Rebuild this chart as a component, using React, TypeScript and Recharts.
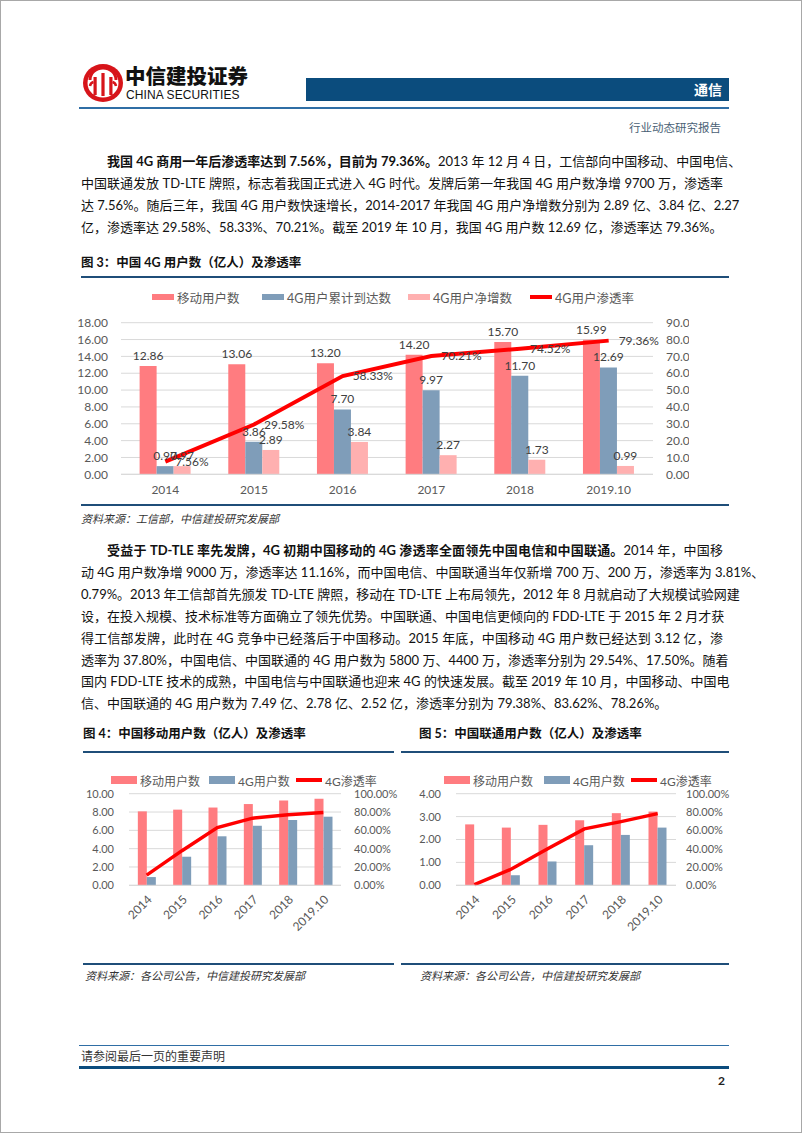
import React from 'react';
import { ComposedChart, Bar, Line, XAxis, YAxis, CartesianGrid, LabelList } from 'recharts';

// 图3 中国4G用户数（亿人）及渗透率
const years = ['2014', '2015', '2016', '2017', '2018', '2019.10'];
const mobileUsers = [12.86, 13.06, 13.2, 14.2, 15.7, 15.99];
const users4g = [0.97, 3.86, 7.7, 9.97, 11.7, 12.69];
const netAdds4g = [0.97, 2.89, 3.84, 2.27, 1.73, 0.99];
const penetration = [7.56, 29.58, 58.33, 70.21, 74.52, 79.36];
const leftTicksMain = [0, 2, 4, 6, 8, 10, 12, 14, 16, 18];
const rightTicksMain = [0, 10, 20, 30, 40, 50, 60, 70, 80, 90];

// 图4 中国移动
const cmMobile = [8.07, 8.26, 8.49, 8.87, 9.25, 9.44];
const cm4g = [0.9, 3.12, 5.35, 6.5, 7.13, 7.49];
const cmPen = [11.16, 37.8, 63.0, 73.3, 77.1, 79.38];
const cmLeftTicks = [0, 2, 4, 6, 8, 10];

// 图5 中国联通
const cuMobile = [2.66, 2.52, 2.64, 2.84, 3.15, 3.22];
const cu4g = [0.02, 0.44, 1.04, 1.75, 2.2, 2.52];
const cuPen = [0.79, 17.5, 39.8, 61.6, 69.5, 78.26];
const cuLeftTicks = [0, 1, 2, 3, 4];

const smallRightTicks = [0, 20, 40, 60, 80, 100];

const mainData = years.map((y, i) => ({
  year: y,
  mobile: mobileUsers[i],
  total4g: users4g[i],
  net4g: netAdds4g[i],
  pen: penetration[i],
}));
const cmData = years.map((y, i) => ({ year: y, mobile: cmMobile[i], u4g: cm4g[i], pen: cmPen[i] }));
const cuData = years.map((y, i) => ({ year: y, mobile: cuMobile[i], u4g: cu4g[i], pen: cuPen[i] }));

const RED = '#FF7C80';
const BLUE = '#7F9DB9';
const PINK = '#FFB0B0';
const LINE_RED = '#FF0000';
const GRID = '#D9D9D9';
const AXIS_TEXT = '#595959';
const NAVY = '#1F4E79';
const FONT = "Lato, 'Noto Sans CJK SC', sans-serif";

const para1 = [
  [
    { t: '我国 4G 商用一年后渗透率达到 7.56%，目前为 79.36%。', b: true },
    { t: '2013 年 12 月 4 日，工信部向中国移动、中国电信、' },
  ],
  [{ t: '中国联通发放 TD-LTE 牌照，标志着我国正式进入 4G 时代。发牌后第一年我国 4G 用户数净增 9700 万，渗透率' }],
  [{ t: '达 7.56%。随后三年，我国 4G 用户数快速增长，2014-2017 年我国 4G 用户净增数分别为 2.89 亿、3.84 亿、2.27' }],
  [{ t: '亿，渗透率达 29.58%、58.33%、70.21%。截至 2019 年 10 月，我国 4G 用户数 12.69 亿，渗透率达 79.36%。' }],
];

const para2 = [
  [
    { t: '受益于 TD-TLE 率先发牌，4G 初期中国移动的 4G 渗透率全面领先中国电信和中国联通。', b: true },
    { t: '2014 年，中国移' },
  ],
  [{ t: '动 4G 用户数净增 9000 万，渗透率达 11.16%，而中国电信、中国联通当年仅新增 700 万、200 万，渗透率为 3.81%、' }],
  [{ t: '0.79%。2013 年工信部首先颁发 TD-LTE 牌照，移动在 TD-LTE 上布局领先，2012 年 8 月就启动了大规模试验网建' }],
  [{ t: '设，在投入规模、技术标准等方面确立了领先优势。中国联通、中国电信更倾向的 FDD-LTE 于 2015 年 2 月才获' }],
  [{ t: '得工信部发牌，此时在 4G 竞争中已经落后于中国移动。2015 年底，中国移动 4G 用户数已经达到 3.12 亿，渗' }],
  [{ t: '透率为 37.80%，中国电信、中国联通的 4G 用户数为 5800 万、4400 万，渗透率分别为 29.54%、17.50%。随着' }],
  [{ t: '国内 FDD-LTE 技术的成熟，中国电信与中国联通也迎来 4G 的快速发展。截至 2019 年 10 月，中国移动、中国电' }],
  [{ t: '信、中国联通的 4G 用户数为 7.49 亿、2.78 亿、2.52 亿，渗透率分别为 79.38%、83.62%、78.26%。' }],
];

type Seg = { t: string; b?: boolean };

const TextRow = ({ segs, top, indent, last }: { segs: Seg[]; top: number; indent?: boolean; last?: boolean }) => (
  <div
    style={{
      position: 'absolute',
      left: 80,
      top,
      width: 642,
      height: 22,
      lineHeight: '22px',
      fontSize: 13,
      whiteSpace: 'nowrap',
      color: '#111',
      textAlign: last ? 'left' : 'justify',
      textAlignLast: last ? 'left' : 'justify',
      textIndent: indent ? 26 : 0,
    } as React.CSSProperties}
  >
    {segs.map((s, i) => (
      <span key={i} style={{ fontWeight: s.b ? 700 : 400 }}>
        {s.t}
      </span>
    ))}
  </div>
);

type LegendItem = { label: string; color: string; kind: 'bar' | 'line'; x: number };

const ChartLegend = ({ items, top, iconW, barH, fontSize }: { items: LegendItem[]; top: number; iconW: number; barH: number; fontSize: number }) => (
  <>
    {items.map((it) => (
      <div key={it.label} style={{ position: 'absolute', left: it.x, top, height: 16, display: 'flex', alignItems: 'center', fontSize, color: AXIS_TEXT, whiteSpace: 'nowrap' }}>
        <span
          style={{
            display: 'inline-block',
            width: iconW,
            height: it.kind === 'bar' ? barH : 4,
            background: it.color,
            marginRight: 3,
          }}
        />
        {it.label}
      </div>
    ))}
  </>
);

const fmt2 = (v: any) => Number(v).toFixed(2);
const fmtPct = (v: any) => Number(v).toFixed(2) + '%';

const tickStyle = { fill: AXIS_TEXT, fontSize: 12, fontFamily: FONT };
const smallTick = { fill: AXIS_TEXT, fontSize: 11, fontFamily: FONT };

const MainChart = () => (
  <div style={{ position: 'absolute', left: 70, top: 283, width: 618, height: 220, overflow: 'hidden' }}>
    <ComposedChart width={640} height={220} data={mainData} margin={{ top: 38.7, right: 0, bottom: 0, left: 0 }} barCategoryGap="21%" barGap={0}>
      <CartesianGrid yAxisId="left" vertical={false} stroke={GRID} />
      <XAxis dataKey="year" height={29.7} tickLine={false} axisLine={{ stroke: GRID }} tickSize={0} tickMargin={11} tick={tickStyle} interval={0} />
      <YAxis yAxisId="left" width={50} domain={[0, 18]} ticks={leftTicksMain} tickFormatter={fmt2} axisLine={false} tickLine={false} tickSize={0} tickMargin={13} tick={tickStyle} interval={0} />
      <YAxis yAxisId="right" orientation="right" width={58} domain={[0, 90]} ticks={rightTicksMain} tickFormatter={fmtPct} axisLine={false} tickLine={false} tickSize={0} tickMargin={13} tick={tickStyle} interval={0} />
      <Bar yAxisId="left" dataKey="mobile" fill={RED} isAnimationActive={false}>
        <LabelList dataKey="mobile" position="top" offset={6} formatter={fmt2} style={{ fill: '#404040', fontSize: 12, fontFamily: FONT }} />
      </Bar>
      <Bar yAxisId="left" dataKey="total4g" fill={BLUE} isAnimationActive={false}>
        <LabelList dataKey="total4g" position="top" offset={6} formatter={fmt2} style={{ fill: '#404040', fontSize: 12, fontFamily: FONT }} />
      </Bar>
      <Bar yAxisId="left" dataKey="net4g" fill={PINK} isAnimationActive={false}>
        <LabelList dataKey="net4g" position="top" offset={6} formatter={fmt2} style={{ fill: '#404040', fontSize: 12, fontFamily: FONT }} />
      </Bar>
      <Line yAxisId="right" dataKey="pen" type="linear" stroke={LINE_RED} strokeWidth={4} dot={false} isAnimationActive={false}>
        <LabelList dataKey="pen" position="right" offset={10} formatter={fmtPct} style={{ fill: '#404040', fontSize: 12, fontFamily: FONT }} />
      </Line>
    </ComposedChart>
  </div>
);

const SmallChart = ({ data, left, width, leftW, leftDomain, leftTicks, leftMargin, rightMargin }: any) => (
  <div style={{ position: 'absolute', left, top: 770, width, height: 170 }}>
    <ComposedChart width={width} height={170} data={data} margin={{ top: 22.7, right: 0, bottom: 0, left: 0 }} barCategoryGap="25%" barGap={0}>
      <CartesianGrid yAxisId="left" vertical={false} stroke={GRID} />
      <XAxis dataKey="year" height={55.7} tickLine={false} axisLine={{ stroke: GRID }} tickSize={0} tickMargin={9} tick={{ ...smallTick, fontSize: 12, angle: -45, textAnchor: 'end' }} interval={0} />
      <YAxis yAxisId="left" width={leftW} domain={leftDomain} ticks={leftTicks} tickFormatter={fmt2} axisLine={false} tickLine={false} tickSize={0} tickMargin={leftMargin} tick={smallTick} interval={0} />
      <YAxis yAxisId="right" orientation="right" width={60} domain={[0, 100]} ticks={smallRightTicks} tickFormatter={fmtPct} axisLine={false} tickLine={false} tickSize={0} tickMargin={rightMargin} tick={smallTick} interval={0} />
      <Bar yAxisId="left" dataKey="mobile" fill={RED} isAnimationActive={false} />
      <Bar yAxisId="left" dataKey="u4g" fill={BLUE} isAnimationActive={false} />
      <Line yAxisId="right" dataKey="pen" type="linear" stroke={LINE_RED} strokeWidth={3.5} dot={false} isAnimationActive={false} />
    </ComposedChart>
  </div>
);

const Rule = ({ left, top, width, h, color }: { left: number; top: number; width: number; h: number; color: string }) => (
  <div style={{ position: 'absolute', left, top, width, height: h, background: color }} />
);

const Logo = () => (
  <svg style={{ position: 'absolute', left: 81, top: 62 }} width={42} height={40} viewBox="-21 -20 42 40">
    <ellipse cx={0} cy={0} rx={20} ry={19} fill="#D7141A" />
    <ellipse cx={0} cy={0} rx={15.5} ry={14.5} fill="#fff" />
    <path d="M-13 -3 A13 12 0 0 1 13 -3" stroke="#D7141A" strokeWidth={3} fill="none" />
    <rect x={-9.5} y={-6} width={3.2} height={18} fill="#D7141A" />
    <rect x={-1.6} y={-10} width={3.2} height={23} fill="#D7141A" />
    <rect x={6.3} y={-6} width={3.2} height={18} fill="#D7141A" />
    <path d="M-13 3 A5 5 0 0 1 -9.5 -1" stroke="#D7141A" strokeWidth={2.5} fill="none" />
    <path d="M13 3 A5 5 0 0 0 9.5 -1" stroke="#D7141A" strokeWidth={2.5} fill="none" />
  </svg>
);

const legendMain: LegendItem[] = [
  { label: '移动用户数', color: RED, kind: 'bar', x: 151 },
  { label: '4G用户累计到达数', color: BLUE, kind: 'bar', x: 261 },
  { label: '4G用户净增数', color: PINK, kind: 'bar', x: 407 },
  { label: '4G用户渗透率', color: LINE_RED, kind: 'line', x: 529 },
];
const legendCm: LegendItem[] = [
  { label: '移动用户数', color: RED, kind: 'bar', x: 110 },
  { label: '4G用户数', color: BLUE, kind: 'bar', x: 208 },
  { label: '4G渗透率', color: LINE_RED, kind: 'line', x: 295 },
];
const legendCu: LegendItem[] = [
  { label: '移动用户数', color: RED, kind: 'bar', x: 443 },
  { label: '4G用户数', color: BLUE, kind: 'bar', x: 543 },
  { label: '4G渗透率', color: LINE_RED, kind: 'line', x: 630 },
];

export default function App() {
  return (
    <div style={{ position: 'relative', width: 802, height: 1133, background: '#fff', fontFamily: FONT, boxSizing: 'border-box', border: '1px solid #A8A8A8', overflow: 'hidden' }}>
      <style>{'body{margin:0}'}</style>

      {/* header */}
      <Logo />
      <div style={{ position: 'absolute', left: 124, top: 62, fontSize: 20.5, fontWeight: 900, color: '#111', letterSpacing: 0, lineHeight: '26px' }}>中信建投证券</div>
      <div style={{ position: 'absolute', left: 125, top: 87, fontSize: 12, fontFamily: "'Liberation Sans', Arial, sans-serif", color: '#111', lineHeight: '14px', letterSpacing: 0.1 }}>CHINA SECURITIES</div>
      <div style={{ position: 'absolute', left: 305, top: 77, width: 423, height: 23, background: '#0B4C7D', color: '#fff', fontWeight: 700, fontSize: 14, lineHeight: '23px', textAlign: 'right', paddingRight: 7, boxSizing: 'border-box' }}>通信</div>
      <Rule left={78} top={106} width={650} h={1.5} color="#2F6EA5" />
      <div style={{ position: 'absolute', right: 80, top: 119, fontSize: 11.5, color: '#4A5F75', lineHeight: '16px' }}>行业动态研究报告</div>

      {/* paragraph 1 */}
      {para1.map((segs, i) => (
        <TextRow key={i} segs={segs as Seg[]} top={149 + i * 22} indent={i === 0} last={i === para1.length - 1} />
      ))}

      {/* figure 3 */}
      <div style={{ position: 'absolute', left: 80, top: 253, fontSize: 12.5, fontWeight: 700, color: '#111', lineHeight: '18px' }}>图 3：中国 4G 用户数（亿人）及渗透率</div>
      <Rule left={80} top={275} width={648} h={2} color={NAVY} />
      <ChartLegend items={legendMain} top={288} iconW={22} barH={6} fontSize={12.5} />
      <MainChart />
      <Rule left={80} top={503} width={648} h={2} color={NAVY} />
      <div style={{ position: 'absolute', left: 80, top: 510, fontSize: 11, fontStyle: 'italic', color: '#333', lineHeight: '16px' }}>资料来源：工信部，中信建投研究发展部</div>

      {/* paragraph 2 */}
      {para2.map((segs, i) => (
        <TextRow key={i} segs={segs as Seg[]} top={538 + i * 21.9} indent={i === 0} last={i === para2.length - 1} />
      ))}

      {/* figure 4 */}
      <div style={{ position: 'absolute', left: 82, top: 724, fontSize: 12.5, fontWeight: 700, color: '#111', lineHeight: '18px' }}>图 4：中国移动用户数（亿人）及渗透率</div>
      <Rule left={82} top={750} width={311} h={2} color={NAVY} />
      <ChartLegend items={legendCm} top={771} iconW={26} barH={8} fontSize={12} />
      <SmallChart data={cmData} left={80} width={320} leftW={48} leftDomain={[0, 10]} leftTicks={cmLeftTicks} leftMargin={15} rightMargin={13} />
      <Rule left={82} top={962} width={311} h={2} color={NAVY} />
      <div style={{ position: 'absolute', left: 84, top: 967, fontSize: 11, fontStyle: 'italic', color: '#333', lineHeight: '16px' }}>资料来源：各公司公告，中信建投研究发展部</div>

      {/* figure 5 */}
      <div style={{ position: 'absolute', left: 418, top: 724, fontSize: 12.5, fontWeight: 700, color: '#111', lineHeight: '18px' }}>图 5：中国联通用户数（亿人）及渗透率</div>
      <Rule left={400} top={750} width={328} h={2} color={NAVY} />
      <ChartLegend items={legendCu} top={771} iconW={26} barH={8} fontSize={12} />
      <SmallChart data={cuData} left={400} width={335} leftW={55} leftDomain={[0, 4]} leftTicks={cuLeftTicks} leftMargin={15} rightMargin={10} />
      <Rule left={400} top={962} width={328} h={2} color={NAVY} />
      <div style={{ position: 'absolute', left: 419, top: 967, fontSize: 11, fontStyle: 'italic', color: '#333', lineHeight: '16px' }}>资料来源：各公司公告，中信建投研究发展部</div>

      {/* footer */}
      <Rule left={78} top={1044} width={650} h={1.2} color="#2F6EA5" />
      <div style={{ position: 'absolute', left: 80, top: 1048, fontSize: 12, color: '#333', lineHeight: '16px' }}>请参阅最后一页的重要声明</div>
      <Rule left={78} top={1065} width={650} h={3} color="#0B4C7D" />
      <div style={{ position: 'absolute', left: 717, top: 1072, fontSize: 12, fontWeight: 700, color: '#222', lineHeight: '16px' }}>2</div>
    </div>
  );
}
